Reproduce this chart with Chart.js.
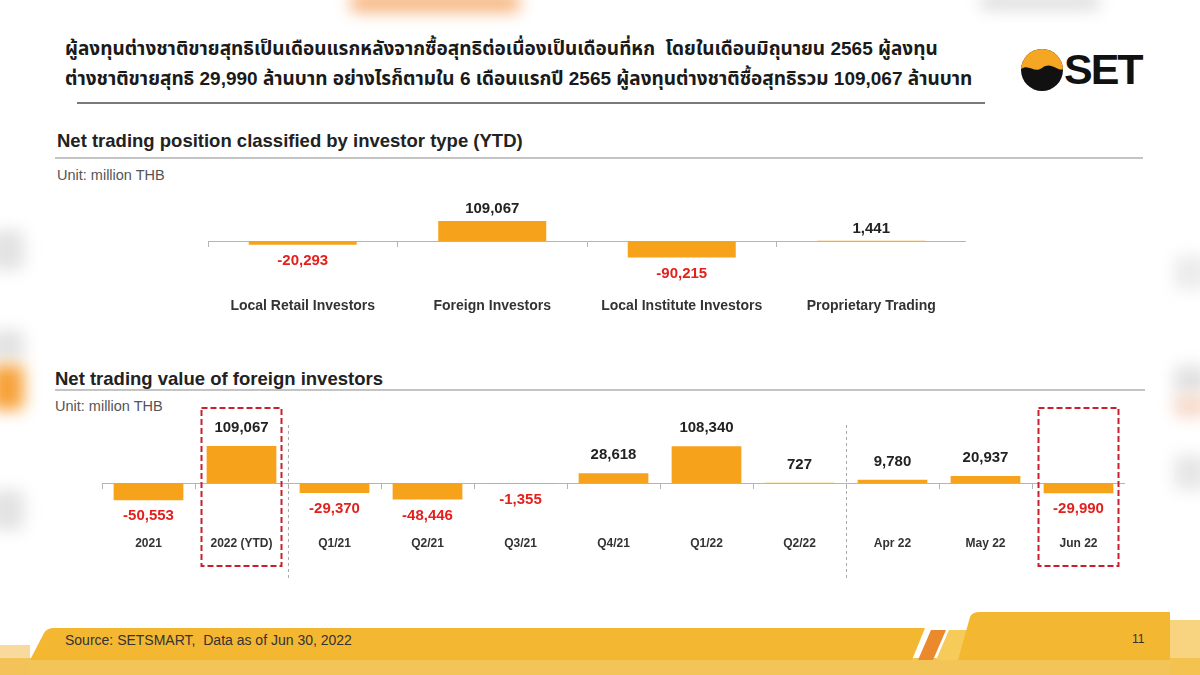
<!DOCTYPE html>
<html>
<head>
<meta charset="utf-8">
<script src="https://cdn.jsdelivr.net/npm/chart.js@4"></script>
<style>
  html, body { margin: 0; padding: 0; }
  body { width: 1200px; height: 675px; position: relative; overflow: hidden; background: #fff;
         font-family: "Liberation Sans", Arial, "Noto Sans Thai", "DejaVu Sans", sans-serif; }
  .abs { position: absolute; }
  .blur { position: absolute; filter: blur(8px); border-radius: 6px; }
  .title { left: 65px; top: 34px; font-size: 19px; font-weight: bold; line-height: 30px; color: #1a1a1a; white-space: nowrap; }
  .head { font-size: 18.5px; font-weight: bold; color: #222; }
  .unit { font-size: 14.5px; color: #555; }
  .rule { height: 2px; background: #c4c4c4; }
</style>
</head>
<body>
<!-- blurred video background around the slide -->
<div class="blur" style="left:350px;top:-6px;width:170px;height:18px;background:#f6b27a;"></div>
<div class="blur" style="left:980px;top:-6px;width:120px;height:16px;background:#ddd;"></div>
<div class="blur" style="left:-10px;top:230px;width:34px;height:40px;background:#e2e2e2;"></div>
<div class="blur" style="left:-10px;top:330px;width:34px;height:30px;background:#e2e2e2;"></div>
<div class="blur" style="left:-10px;top:365px;width:34px;height:45px;background:#f7a23a;"></div>
<div class="blur" style="left:-10px;top:490px;width:34px;height:40px;background:#e2e2e2;"></div>
<div class="blur" style="left:1174px;top:255px;width:34px;height:35px;background:#ececec;"></div>
<div class="blur" style="left:1174px;top:365px;width:34px;height:30px;background:#e2e2e2;"></div>
<div class="blur" style="left:1174px;top:395px;width:34px;height:22px;background:#f6d8c8;"></div>
<div class="blur" style="left:1174px;top:455px;width:34px;height:35px;background:#e6e6e6;"></div>

<div class="abs title">ผู้ลงทุนต่างชาติขายสุทธิเป็นเดือนแรกหลังจากซื้อสุทธิต่อเนื่องเป็นเดือนที่หก&nbsp; โดยในเดือนมิถุนายน 2565 ผู้ลงทุน<br>ต่างชาติขายสุทธิ 29,990 ล้านบาท อย่างไรก็ตามใน 6 เดือนแรกปี 2565 ผู้ลงทุนต่างชาติซื้อสุทธิรวม 109,067 ล้านบาท</div>
<div class="abs" style="left:77px;top:102px;width:908px;height:2px;background:#7a7a7a;"></div>

<!-- SET logo -->
<svg class="abs" style="left:1020px;top:48px;" width="46" height="44" viewBox="0 0 46 44">
  <defs><clipPath id="c"><circle cx="22" cy="22" r="21"/></clipPath></defs>
  <g clip-path="url(#c)">
    <rect x="0" y="0" width="46" height="44" fill="#111"/>
    <path d="M0 0 H46 V20 C38 26 32 12 22 20 C14 26 8 14 0 22 Z" fill="#f5a623"/>
  </g>
</svg>
<div class="abs" style="left:1064px;top:44px;font-size:43px;font-weight:bold;color:#111;letter-spacing:-2px;line-height:50px;">SET</div>

<div class="abs head" style="left:57px;top:130px;">Net trading position classified by investor type (YTD)</div>
<div class="abs rule" style="left:55px;top:157px;width:1088px;"></div>
<div class="abs unit" style="left:57px;top:167px;">Unit: million THB</div>

<div class="abs head" style="left:55px;top:368px;">Net trading value of foreign investors</div>
<div class="abs rule" style="left:55px;top:389px;width:1090px;"></div>
<div class="abs unit" style="left:55px;top:398px;">Unit: million THB</div>

<canvas id="chart1" class="abs" style="left:208px;top:190px;" width="758" height="135"></canvas>
<canvas id="chart2" class="abs" style="left:102px;top:400px;" width="1023" height="185"></canvas>

<!-- footer band -->
<svg class="abs" style="left:0;top:600px;filter:blur(0.4px);" width="1200" height="75">
  <rect x="0" y="58" width="1200" height="17" fill="#f1bb3c" opacity="0.85"/>
  <rect x="0" y="45" width="30" height="30" fill="#f3c35a" opacity="0.6"/>
  <rect x="1170" y="20" width="30" height="55" fill="#f5c24a" opacity="0.7"/>
  <path d="M30 60 L44 33 Q47 28 54 28 L925 28 L912 60 Z" fill="#f4b731"/>
  <path d="M918 60 L931 30 L946 30 L933 60 Z" fill="#ea8a2c"/>
  <path d="M936 60 L949 30 L980 30 L967 60 Z" fill="#f6cb5a"/>
  <path d="M958 60 L970 17 Q972 12 980 12 L1170 12 L1170 60 Z" fill="#f4b731"/>
</svg>
<div class="abs" style="left:65px;top:632px;font-size:14px;color:#333;">Source: SETSMART,&nbsp; Data as of Jun 30, 2022</div>
<div class="abs" style="left:1132px;top:632px;font-size:12px;color:#333;">11</div>

<script>
// Net trading position by investor type (YTD), million THB
const investorTypes = ['Local Retail Investors', 'Foreign Investors', 'Local Institute Investors', 'Proprietary Trading'];
const investorNet = [-20293, 109067, -90215, 1441];

// Net trading value of foreign investors, million THB
const periods = ['2021', '2022 (YTD)', 'Q1/21', 'Q2/21', 'Q3/21', 'Q4/21', 'Q1/22', 'Q2/22', 'Apr 22', 'May 22', 'Jun 22'];
const foreignNet = [-50553, 109067, -29370, -48446, -1355, 28618, 108340, 727, 9780, 20937, -29990];
const highlighted = ['2022 (YTD)', 'Jun 22'];
const groupBreaks = ['2022 (YTD)', 'Q2/22']; // dashed divider after these

const BAR = '#f7a21b';
const FONT = '"Liberation Sans", Arial, sans-serif';

const fmt = v => v.toLocaleString('en-US');

// value labels above / below each bar
const valueLabels = {
  id: 'valueLabels',
  afterDatasetsDraw(chart, args, opts) {
    const ctx = chart.ctx;
    const meta = chart.getDatasetMeta(0);
    const data = chart.data.datasets[0].data;
    ctx.save();
    ctx.font = 'bold ' + opts.size + 'px ' + FONT;
    ctx.textAlign = 'center';
    ctx.textBaseline = 'middle';
    meta.data.forEach((bar, i) => {
      const v = data[i];
      if (v >= 0) {
        ctx.fillStyle = '#222';
        ctx.fillText(fmt(v), bar.x, Math.min(bar.y, bar.base) - opts.up);
      } else {
        ctx.fillStyle = '#e3211c';
        ctx.fillText(fmt(v), bar.x, Math.max(bar.y, bar.base) + opts.down);
      }
    });
    ctx.restore();
  }
};

// dashed red boxes and grey dividers on the foreign chart
const markers = {
  id: 'markers',
  afterDraw(chart, args, opts) {
    if (!opts.boxes) return;
    const ctx = chart.ctx;
    const x = chart.scales.x;
    const step = x.getPixelForValue(1) - x.getPixelForValue(0);
    ctx.save();
    ctx.setLineDash([3, 3]);
    ctx.strokeStyle = '#aaa';
    ctx.lineWidth = 1;
    opts.breaks.forEach(lbl => {
      const px = Math.round(x.getPixelForValue(periods.indexOf(lbl)) + step / 2) + 0.5;
      ctx.beginPath();
      ctx.moveTo(px, 25);
      ctx.lineTo(px, 180);
      ctx.stroke();
    });
    ctx.setLineDash([6, 3]);
    ctx.strokeStyle = '#c8202e';
    ctx.lineWidth = 2;
    opts.boxes.forEach(lbl => {
      const cx = x.getPixelForValue(periods.indexOf(lbl));
      ctx.strokeRect(cx - 40, 8, 80, 158);
    });
    ctx.restore();
  }
};

function makeChart(id, labels, values, cfg) {
  return new Chart(document.getElementById(id), {
    type: 'bar',
    data: {
      labels: labels,
      datasets: [{
        data: values,
        backgroundColor: BAR,
        borderWidth: 0,
        barPercentage: cfg.barPct,
        categoryPercentage: 1
      }]
    },
    options: {
      responsive: false,
      animation: false,
      layout: { padding: 0 },
      plugins: {
        legend: { display: false },
        tooltip: { enabled: false },
        valueLabels: cfg.labels,
        markers: cfg.markers || {}
      },
      scales: {
        x: {
          position: { y: 0 },
          afterFit: s => { s.paddingLeft = 0; s.paddingRight = 0; },
          grid: { offset: true, drawOnChartArea: false, drawTicks: true, tickLength: 5, color: '#b5b5b5' },
          border: { display: true, color: '#b5b5b5', width: 1 },
          ticks: { color: '#333', padding: cfg.tickPad, maxRotation: 0, autoSkip: false,
                   font: { family: FONT, size: cfg.catSize, weight: 'bold' } }
        },
        y: { display: false, min: cfg.min, max: cfg.max }
      }
    },
    plugins: [valueLabels, markers]
  });
}

makeChart('chart1', investorTypes, investorNet, {
  barPct: 0.57, min: -457800, max: 278000, tickPad: 52, catSize: 14,
  labels: { size: 15, up: 12, down: 16 }
});

makeChart('chart2', periods, foreignNet, {
  barPct: 0.75, min: -300700, max: 245000, tickPad: 48, catSize: 12,
  labels: { size: 15, up: 18, down: 16 },
  markers: { boxes: highlighted, breaks: groupBreaks }
});
</script>
</body>
</html>
